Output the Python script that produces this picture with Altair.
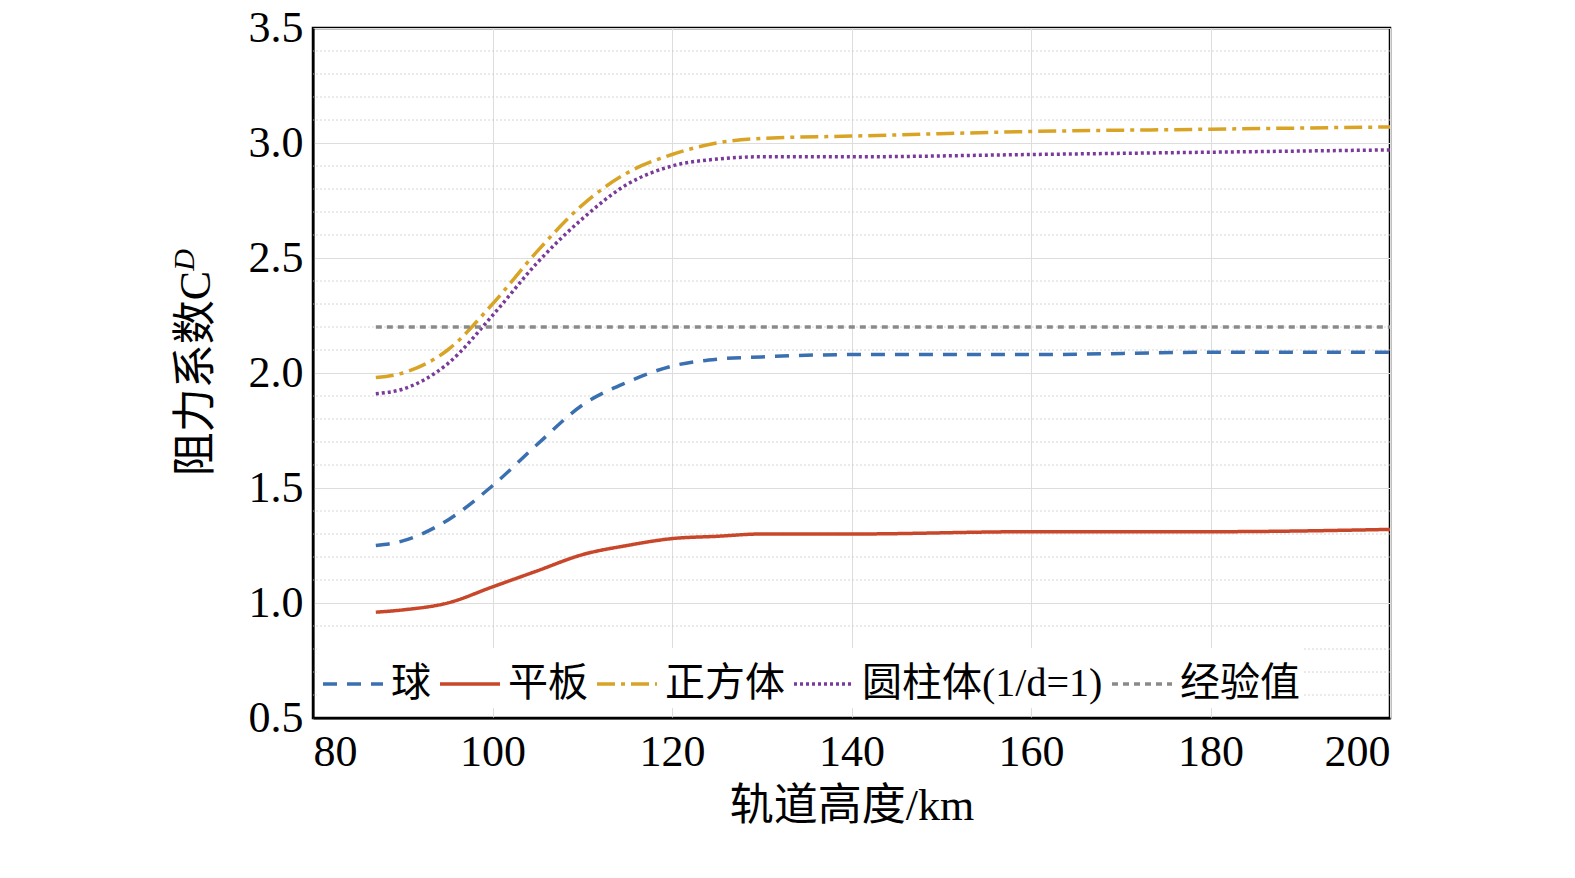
import altair as alt
import pandas as pd

alt_x = [87, 90, 95, 100, 105, 110, 115, 120, 125, 130, 140, 160, 180, 200]
sphere = [1.25, 1.27, 1.36, 1.51, 1.69, 1.86, 1.96, 2.03, 2.06, 2.07, 2.08, 2.08, 2.09, 2.09]
plate = [0.96, 0.97, 1.00, 1.07, 1.14, 1.21, 1.25, 1.28, 1.29, 1.30, 1.30, 1.31, 1.31, 1.32]
cube = [1.98, 2.00, 2.10, 2.30, 2.53, 2.73, 2.87, 2.95, 3.00, 3.02, 3.03, 3.05, 3.06, 3.07]
cylinder = [1.91, 1.93, 2.04, 2.25, 2.48, 2.67, 2.82, 2.90, 2.93, 2.94, 2.94, 2.95, 2.96, 2.97]
empirical = [2.2] * len(alt_x)
minor_ticks = [0.6, 0.7, 0.8, 0.9, 1.1, 1.2, 1.3, 1.4, 1.6, 1.7, 1.8, 1.9, 2.1, 2.2, 2.3, 2.4,
               2.6, 2.7, 2.8, 2.9, 3.1, 3.2, 3.3, 3.4]

names = ["球", "平板", "正方体", "圆柱体(1/d=1)", "经验值"]
colors = ["#3a6fb0", "#c8472a", "#d9a426", "#7a3a9a", "#8a8a8a"]
dashes = [[14, 10], [1, 0], [18, 6, 4, 6], [3, 3], [6, 5]]
widths = [3.5, 3.5, 3.5, 3.5, 1.6]

rows = []
for name, ys in zip(names, [sphere, plate, cube, cylinder, empirical]):
    for x, y in zip(alt_x, ys):
        rows.append({"h": x, "cd": y, "s": name})
df = pd.DataFrame(rows)

FONT = "Liberation Serif, Noto Sans CJK SC"

minor = alt.Chart(pd.DataFrame({"v": minor_ticks})).mark_rule(
    color="#cccccc", strokeDash=[2, 2], strokeWidth=0.8
).encode(y=alt.Y("v:Q", scale=alt.Scale(domain=[0.5, 3.5])))

lines = alt.Chart(df).mark_line(interpolate="monotone").encode(
    x=alt.X("h:Q", scale=alt.Scale(domain=[80, 200]),
            axis=alt.Axis(values=[80, 100, 120, 140, 160, 180, 200], title="轨道高度/km",
                          titleFontSize=44, labelFontSize=44, titleFontWeight="normal",
                          titlePadding=10, tickSize=0, labelPadding=12)),
    y=alt.Y("cd:Q", scale=alt.Scale(domain=[0.5, 3.5]),
            axis=alt.Axis(values=[0.5, 1.0, 1.5, 2.0, 2.5, 3.0, 3.5], format=".1f",
                          title="阻力系数C", titleFontSize=44, labelFontSize=44,
                          titleFontWeight="normal", titlePadding=30, tickSize=0,
                          labelPadding=10)),
    color=alt.Color("s:N", scale=alt.Scale(domain=names, range=colors),
                    legend=alt.Legend(orient="none", legendX=4, legendY=620, direction="horizontal",
                                      columns=5, title=None, symbolType="stroke", symbolSize=3600,
                                      symbolStrokeWidth=3.5, labelFontSize=40, labelFont=FONT,
                                      labelLimit=400, fillColor="white", columnPadding=2,
                                      labelOffset=6, padding=4)),
    strokeDash=alt.StrokeDash("s:N", scale=alt.Scale(domain=names, range=dashes)),
    strokeWidth=alt.StrokeWidth("s:N", scale=alt.Scale(domain=names, range=widths), legend=None),
)

sub = alt.Chart(pd.DataFrame({"t": ["D"]})).mark_text(
    text="D", fontSize=30, font=FONT, fontStyle="italic", angle=270
).encode(x=alt.value(-128), y=alt.value(232))

chart = alt.layer(minor, lines, sub).properties(
    width=1077, height=690,
    autosize=alt.AutoSizeParams(type="none"),
    padding={"left": 305, "top": 20, "right": 170, "bottom": 160},
).configure_axis(
    grid=True, gridColor="#dddddd", gridWidth=1, domainColor="black", domainWidth=2,
    labelFont=FONT, titleFont=FONT, labelColor="black", titleColor="black",
).configure_view(stroke="black", strokeWidth=2.5)

chart.save("out.html", embed_options={"renderer": "svg", "actions": False})
